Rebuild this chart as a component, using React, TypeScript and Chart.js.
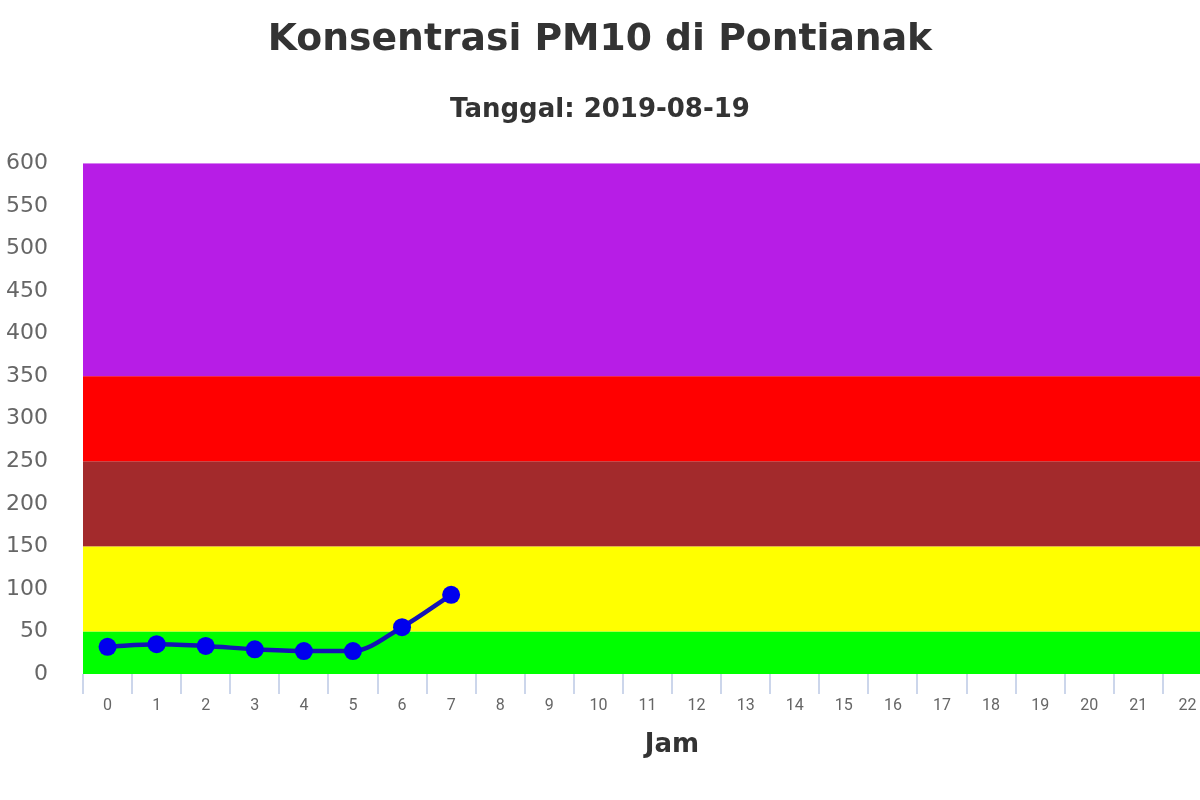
import React, { useEffect, useRef } from "react";
import { Chart, registerables } from "chart.js";

Chart.register(...registerables);

const hours = ["0","1","2","3","4","5","6","7","8","9","10","11","12","13","14","15","16","17","18","19","20","21","22","23"];
const pm10Values = [32, 35, 33, 29, 27, 27, 55, 93];
const bandFrom = [0, 50, 150, 250, 350];
const bandTo = [50, 150, 250, 350, 600];
const bandColors = ["#00ff00", "#ffff00", "#a32a2c", "#ff0000", "#b71de6"];
const titleText = "Konsentrasi PM10 di Pontianak";
const subtitleText = "Tanggal: 2019-08-19";
const xTitle = "Jam";

const bandsPlugin = {
  id: "bands",
  beforeDatasetsDraw(chart: any) {
    const { ctx, chartArea, scales } = chart;
    const y = scales.y;
    ctx.save();
    for (let i = 0; i < bandFrom.length; i++) {
      const top = y.getPixelForValue(bandTo[i]);
      const bottom = y.getPixelForValue(bandFrom[i]);
      ctx.fillStyle = bandColors[i];
      ctx.fillRect(chartArea.left, top, chartArea.right - chartArea.left, bottom - top);
    }
    ctx.restore();
  },
};

export default function App() {
  const ref = useRef<HTMLCanvasElement>(null);
  useEffect(() => {
    if (!ref.current) return;
    const chart = new Chart(ref.current, {
      type: "line",
      data: {
        labels: hours,
        datasets: [
          {
            label: "PM10",
            data: pm10Values,
            borderColor: "#1414b4",
            borderWidth: 4.5,
            backgroundColor: "#0000ee",
            pointBackgroundColor: "#0000ee",
            pointBorderColor: "#0000ee",
            pointRadius: 9,
            pointBorderWidth: 0,
            cubicInterpolationMode: "monotone",
            fill: false,
          },
        ],
      },
      options: {
        responsive: false,
        animation: false,
        devicePixelRatio: 1,
        layout: { autoPadding: false, padding: { left: 0, right: 0, top: 0, bottom: 35.6 } },
        plugins: {
          legend: { display: false },
          tooltip: { enabled: false },
          title: {
            display: true,
            text: titleText,
            color: "#333333",
            font: { family: "DejaVu Sans", size: 37.7, weight: "bold", lineHeight: 1.2 },
            padding: { top: 17.6, bottom: 0 },
          },
          subtitle: {
            display: true,
            text: subtitleText,
            color: "#333333",
            font: { family: "DejaVu Sans", size: 26, weight: "bold", lineHeight: 1.2 },
            padding: { top: 32, bottom: 37.4 },
          },
        },
        scales: {
          x: {
            offset: true,
            grid: {
              display: true,
              offset: true,
              drawOnChartArea: false,
              drawTicks: true,
              tickLength: 20,
              color: "#ccd6eb",
              lineWidth: 2,
            },
            border: { display: false },
            ticks: {
              color: "#666666",
              font: { family: "Roboto", size: 16 },
              padding: 2,
              maxRotation: 0,
              autoSkip: false,
            },
            title: {
              display: true,
              text: xTitle,
              color: "#333333",
              font: { family: "DejaVu Sans", size: 26, weight: "bold", lineHeight: 1.2 },
              padding: { top: 12, bottom: 4 },
            },
          },
          y: {
            min: 0,
            max: 600,
            grid: { display: false, drawTicks: false },
            border: { display: false },
            ticks: {
              stepSize: 50,
              color: "#666666",
              font: { family: "DejaVu Sans", size: 22 },
              padding: 35,
            },
            afterFit(scale: any) {
              scale.width = 144;
            },
          },
        },
      },
      plugins: [bandsPlugin],
    });
    return () => chart.destroy();
  }, []);

  return (
    <div style={{ position: "fixed", left: 0, top: 0, width: 1200, height: 800, overflow: "hidden", background: "#ffffff" }}>
      <div style={{ position: "absolute", left: -61, top: 0, width: 1322, height: 800 }}>
        <canvas ref={ref} width={1322} height={800} style={{ display: "block" }} />
      </div>
    </div>
  );
}
